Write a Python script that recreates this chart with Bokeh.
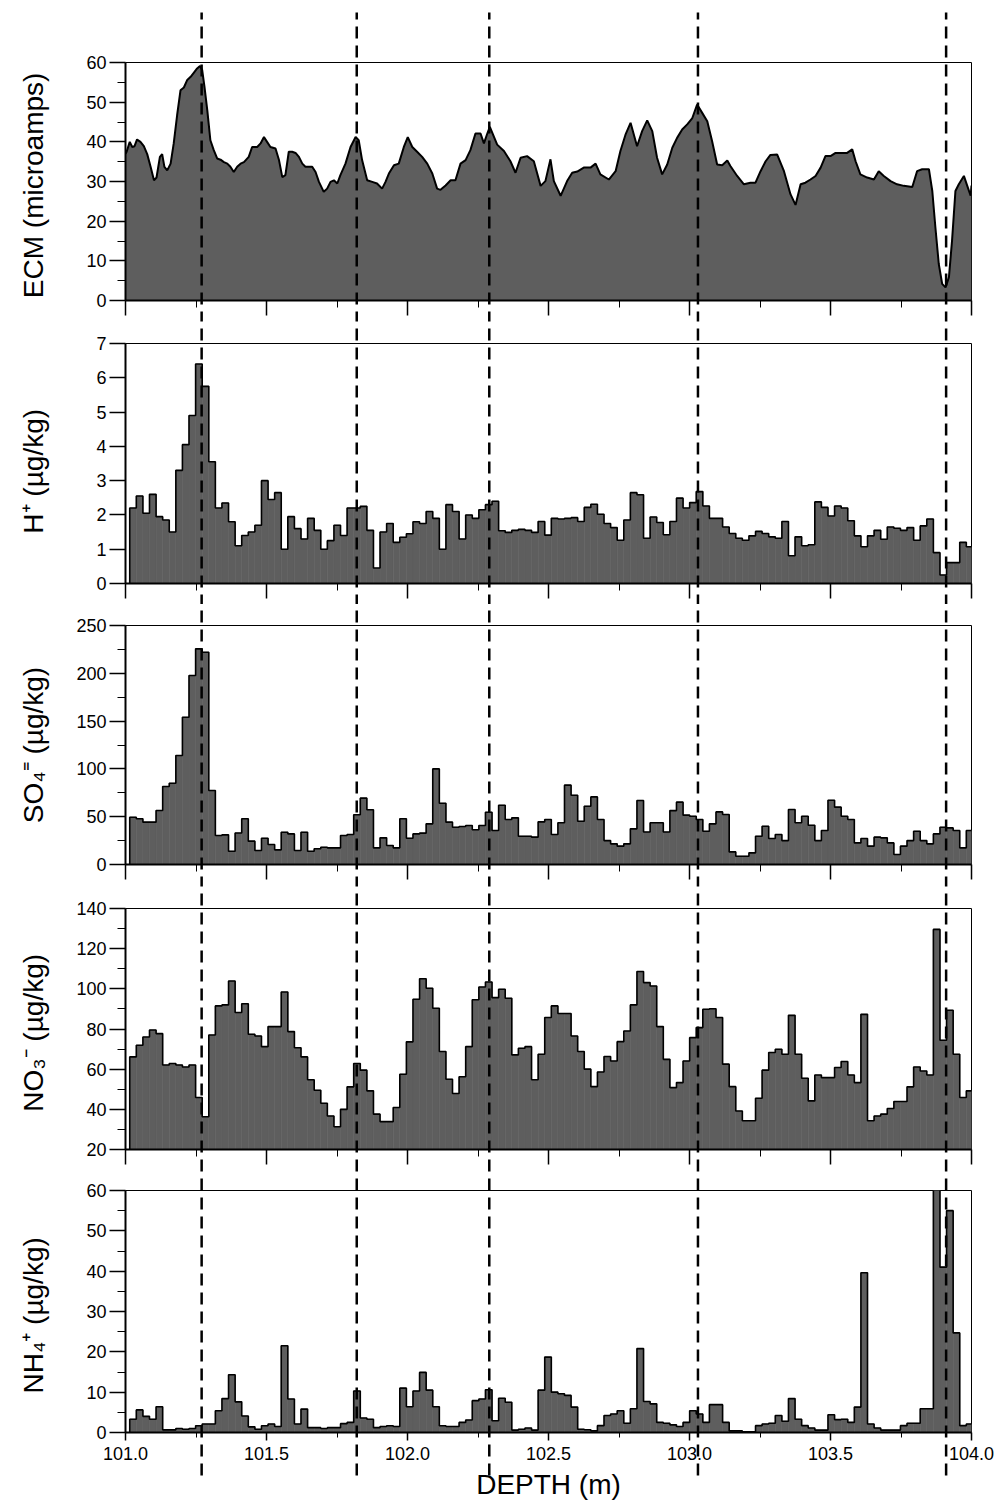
from bokeh.plotting import figure
from bokeh.layouts import column
from bokeh.models import Range1d, FixedTicker, PrintfTickFormatter
from bokeh.embed import file_html
from bokeh.resources import INLINE

FONT = "Liberation Sans"
FILL = "#5e5e5e"

# ---------------- data ----------------
depth_min, depth_max = 101.0, 104.0
x_major = [101.0, 101.5, 102.0, 102.5, 103.0, 103.5, 104.0]
x_minor = [101.25, 101.75, 102.25, 102.75, 103.25, 103.75]
event_depths = [101.27, 101.82, 102.29, 103.03, 103.91]

ecm_depth = [101.000, 101.004, 101.015, 101.024, 101.032, 101.041, 101.053, 101.065, 101.077, 101.089,
             101.101, 101.110, 101.122, 101.130, 101.138, 101.148, 101.160, 101.171, 101.183, 101.195,
             101.207, 101.219, 101.231, 101.242, 101.254, 101.264, 101.272, 101.280, 101.290, 101.301,
             101.313, 101.325, 101.337, 101.349, 101.361, 101.372, 101.384, 101.396, 101.408, 101.420,
             101.437, 101.449, 101.467, 101.479, 101.491, 101.502, 101.514, 101.532, 101.544, 101.556,
             101.567, 101.579, 101.591, 101.603, 101.615, 101.627, 101.638, 101.650, 101.662, 101.674,
             101.686, 101.703, 101.715, 101.727, 101.739, 101.751, 101.762, 101.780, 101.798, 101.816,
             101.827, 101.839, 101.857, 101.875, 101.892, 101.910, 101.922, 101.934, 101.952, 101.969,
             101.987, 102.001, 102.017, 102.034, 102.052, 102.070, 102.088, 102.105, 102.117, 102.135,
             102.153, 102.170, 102.188, 102.206, 102.223, 102.241, 102.259, 102.271, 102.283, 102.292,
             102.318, 102.342, 102.365, 102.383, 102.401, 102.424, 102.448, 102.472, 102.489, 102.507,
             102.519, 102.543, 102.566, 102.584, 102.602, 102.625, 102.649, 102.667, 102.684, 102.714,
             102.738, 102.755, 102.773, 102.791, 102.814, 102.832, 102.850, 102.868, 102.885, 102.903,
             102.921, 102.939, 102.956, 102.974, 102.992, 103.010, 103.027, 103.045, 103.063, 103.080,
             103.098, 103.116, 103.134, 103.145, 103.169, 103.193, 103.216, 103.234, 103.252, 103.270,
             103.287, 103.311, 103.335, 103.358, 103.376, 103.394, 103.411, 103.429, 103.447, 103.465,
             103.482, 103.500, 103.518, 103.536, 103.559, 103.577, 103.589, 103.606, 103.630, 103.654,
             103.671, 103.689, 103.713, 103.736, 103.760, 103.790, 103.807, 103.825, 103.849, 103.861,
             103.872, 103.884, 103.896, 103.908, 103.920, 103.931, 103.943, 103.955, 103.973, 103.985,
             103.997, 104.000]
ecm_value = [37.0, 37.5, 40.0, 38.7, 38.9, 40.6, 40.0, 38.9, 36.9, 33.7,
             30.3, 31.0, 36.2, 36.9, 33.7, 32.8, 34.5, 39.6, 46.7, 53.0,
             53.7, 55.6, 56.4, 57.4, 58.5, 59.1, 58.1, 53.9, 48.0, 40.4,
             37.9, 35.8, 35.5, 34.9, 34.5, 33.7, 32.4, 33.7, 34.5, 34.9,
             36.2, 38.7, 38.7, 39.6, 41.2, 40.0, 38.7, 38.3, 35.5, 31.1,
             31.6, 37.5, 37.5, 37.2, 36.2, 34.5, 33.7, 33.7, 33.7, 32.4,
             29.9, 27.4, 28.2, 29.9, 30.3, 29.5, 31.6, 34.5, 38.7, 41.2,
             40.4, 35.4, 30.3, 29.9, 29.5, 28.2, 29.9, 32.0, 34.1, 34.5,
             38.7, 41.2, 38.7, 37.5, 36.2, 34.5, 32.0, 28.2, 27.9, 29.0,
             30.3, 30.3, 34.5, 35.4, 37.9, 42.1, 42.1, 39.6, 42.1, 43.8,
             39.3, 37.7, 35.1, 32.2, 36.0, 36.4, 35.1, 28.9, 30.1, 35.6,
             30.1, 26.4, 30.1, 32.2, 32.5, 33.5, 33.5, 34.5, 31.8, 30.5,
             32.6, 37.7, 41.8, 44.8, 38.9, 42.7, 45.4, 42.7, 36.0, 31.8,
             34.3, 38.5, 41.0, 43.1, 44.4, 46.0, 49.4, 47.3, 45.2, 40.2,
             34.3, 34.1, 35.3, 33.9, 31.4, 29.3, 29.7, 29.7, 32.6, 35.1,
             36.7, 36.8, 32.6, 26.8, 24.1, 29.3, 29.7, 30.5, 31.4, 33.5,
             36.4, 36.4, 37.2, 37.2, 37.2, 38.1, 35.1, 31.8, 31.0, 30.5,
             32.6, 31.4, 30.1, 29.3, 28.9, 28.6, 32.6, 33.1, 33.1, 27.6,
             18.4, 9.2, 4.2, 3.3, 5.9, 15.1, 27.6, 29.3, 31.4, 28.9,
             26.4, 29.0]

# sample bins shared by the chemistry series
bin_start, bin_end = 101.015, 104.005

h_values = [2.2, 2.55, 2.05, 2.6, 1.95, 1.85, 1.5, 3.3, 4.05, 4.9,
            6.4, 5.75, 3.55, 2.2, 2.35, 1.8, 1.1, 1.4, 1.5, 1.7,
            3.0, 2.45, 2.65, 1.0, 1.95, 1.6, 1.3, 1.9, 1.55, 1.0,
            1.25, 1.7, 1.4, 2.2, 2.2, 2.25, 1.55, 0.45, 1.5, 1.75,
            1.2, 1.35, 1.45, 1.8, 1.75, 2.1, 1.9, 1.0, 2.3, 2.1,
            1.3, 2.0, 1.9, 2.15, 2.3, 2.4,
            1.54, 1.49, 1.55, 1.58, 1.55, 1.49, 1.81, 1.41, 1.9, 1.88,
            1.9, 1.92, 1.81, 2.22, 2.31, 2.02, 1.75, 1.63, 1.26, 1.85,
            2.65, 2.59, 1.32, 1.94, 1.78, 1.42, 1.81, 2.49, 2.2, 2.36,
            2.68, 2.26, 1.9, 1.9, 1.65, 1.46, 1.32, 1.26, 1.39, 1.52,
            1.46, 1.36, 1.32, 1.81, 0.81, 1.36, 1.1, 1.13, 2.38, 2.22,
            1.97, 2.26, 2.2, 1.83, 1.39, 1.07, 1.39, 1.55, 1.29, 1.65,
            1.61, 1.55, 1.63, 1.26, 1.68, 1.88, 0.9, 0.25, 0.61, 0.61,
            1.2, 1.07]

so4_values = [49.5, 47.8, 44.3, 44.3, 56.5, 81.6, 85, 114, 154, 197.7,
              225.6, 222, 77.4, 30.3, 31, 13.9, 33, 47.8, 24.4, 14.6,
              27.5, 20.9, 15.3, 33.8, 32, 14.6, 33.8, 13.9, 16.4, 18.1,
              17.4, 17.4, 30.3, 31.4, 52, 69.4, 57.2, 17.4, 27.9, 19.9,
              17.4, 47.8, 27.5, 32, 32.8, 42.5, 100, 64, 44.3, 39,
              39.7, 40.8, 36.3, 40.8, 54.7, 35.6,
              62, 47, 48.8, 29.6, 29.6, 28.6, 44.6, 47, 31.4, 43.6,
              83, 72.5, 45.3, 61, 70.7, 47, 25, 21.6, 19.2, 21.6,
              37.3, 67, 34, 43.6, 43.6, 34, 56.4, 65.2, 51.6, 50.5,
              47, 34.8, 42.5, 55, 52.3, 13.2, 8.7, 8.7, 12.2, 29.6,
              40, 27.2, 31.4, 25, 57.5, 43.6, 50.5, 41, 25, 35.5,
              67.2, 60, 50.5, 47, 22.6, 27.2, 19.2, 28.6, 27.9, 22.6,
              10.5, 19.2, 25, 34.8, 25, 21.6, 32, 39, 38.3, 35.5,
              17.4, 35.5]

no3_values = [66.1, 71.9, 76, 79.5, 77.7, 62.1, 62.8, 62.1, 61.1, 62.1,
              45.9, 36.3, 77, 91.5, 92, 103.9, 88.2, 92.6, 77.4, 76.5,
              71.2, 81.2, 81.2, 98.4, 78.7, 70.7, 66.1, 54.7, 49.5, 43,
              36.7, 31.3, 40, 51.2, 62.8, 59.5, 49.2, 37.6, 33.9, 33.9,
              40.9, 57.5, 73.6, 94.8, 105, 100.3, 90.3, 68.8, 55, 47.9,
              56.2, 71.2, 94.6, 100.9, 103.4, 95.6,
              99.8, 95.3, 67.1, 70.4, 71.2, 54.7, 67.4, 85.7, 91.5, 87.7,
              87.7, 76.5, 68.8, 60, 51.3, 58.6, 66.3, 64.1, 73.7, 79,
              92, 108.6, 103.1, 101.4, 81.2, 64.9, 50.8, 53.3, 64.1, 75.7,
              80.7, 89.8, 90.1, 85.7, 62.5, 51.3, 39.2, 34.3, 34.3, 45.5,
              59.5, 68.3, 69.9, 67.4, 86.8, 67.4, 55.5, 44.2, 57.1, 55.8,
              55.8, 60.8, 63.8, 57.1, 53.3, 87.3, 34.3, 36.7, 37.6, 40.4,
              43.9, 43.9, 51.2, 61.1, 59.1, 57.1, 129.6, 74.4, 89.3, 67.4,
              45.9, 49.2]

nh4_values = [3.3, 5.6, 4.0, 3.3, 6.4, 0.66, 0.66, 1.0, 0.8, 1.0,
              1.66, 2.1, 2.1, 5.4, 8.4, 14.3, 7.6, 4.1, 1.4, 0.8,
              1.66, 2.1, 1.5, 21.5, 8.3, 2.1, 5.8, 1.2, 1.2, 1.0,
              1.2, 1.2, 2.2, 2.5, 10.3, 3.6, 3.3, 1.2, 1.5, 1.66,
              1.5, 11, 6.4, 10.3, 14.9, 10.5, 6.4, 1.66, 1.5, 1.5,
              2.5, 3.1, 7.9, 8.3, 10.6, 2.9,
              8.5, 7.5, 0.6, 0.8, 1.1, 0.6, 10.5, 18.7, 10, 9.6,
              9.2, 6.3, 0.8, 0.7, 0.4, 1.7, 4.2, 4.6, 5.4, 2.3,
              5.9, 20.8, 7.7, 7.1, 2.5, 2.3, 1.9, 1.5, 2.5, 5.4,
              4.6, 2.5, 6.9, 6.9, 2.5, 0.4, 0.4, 0.2, 0.2, 1.7,
              2.1, 2.3, 4.2, 2.8, 8.4, 3.3, 1.7, 1.1, 0.6, 0.6,
              4.4, 3.2, 3.3, 2.5, 6.3, 39.6, 2.1, 1.1, 0.6, 0.6,
              0.6, 1.7, 2.3, 2.3, 5.9, 5.9, 61, 41, 55, 24.7,
              1.7, 2.1]

# ---------------- panels ----------------
panels = [
    dict(kind="ecm", label="ECM  (microamps)", yr=(0, 60),
         major=list(range(0, 61, 10)), minor=list(range(5, 60, 10)),
         top=62, frame=238, bottom=21, ext_top=50, standoff=34),
    dict(kind="bins", values=h_values, label="H\u207a   (\u00b5g/kg)", yr=(0, 7),
         major=list(range(0, 8)), minor=[],
         top=22, frame=240, bottom=21, ext_top=23, standoff=44),
    dict(kind="bins", values=so4_values, label="SO\u2084\u207c (\u00b5g/kg)", yr=(0, 250),
         major=list(range(0, 251, 50)), minor=list(range(25, 250, 50)),
         top=21, frame=239, bottom=22, ext_top=22, standoff=24),
    dict(kind="bins", values=no3_values, label="NO\u2083\u207b  (\u00b5g/kg)", yr=(20, 140),
         major=list(range(20, 141, 20)), minor=list(range(30, 140, 20)),
         top=22, frame=241, bottom=20, ext_top=23, standoff=24),
    dict(kind="bins", values=nh4_values, label="NH\u2084\u207a  (\u00b5g/kg)", yr=(0, 60),
         major=list(range(0, 61, 10)), minor=list(range(5, 60, 10)),
         top=21, frame=242, bottom=79, ext_top=22, standoff=34),
]

figs = []
for i, spec in enumerate(panels):
    last = i == len(panels) - 1
    y0, y1 = spec["yr"]
    h = spec["top"] + spec["frame"] + spec["bottom"]
    p = figure(width=996, height=h, output_backend="svg", toolbar_location=None,
               x_range=Range1d(depth_min, depth_max), y_range=Range1d(y0, y1),
               min_border_left=125, min_border_right=25,
               min_border_top=spec["top"], min_border_bottom=spec["bottom"])
    p.background_fill_color = "white"
    p.border_fill_color = "white"
    p.grid.grid_line_color = None
    p.outline_line_color = "black"
    p.outline_line_width = 1

    if spec["kind"] == "ecm":
        p.varea(x=ecm_depth, y1=[y0] * len(ecm_depth), y2=ecm_value, fill_color=FILL)
        p.line(x=ecm_depth, y=ecm_value, line_color="black", line_width=2)
    else:
        vals = spec["values"]
        n = len(vals)
        w = (bin_end - bin_start) / n
        lefts = [bin_start + k * w for k in range(n)]
        rights = [l + w for l in lefts]
        p.quad(left=lefts, right=rights, top=vals, bottom=[y0] * n,
               fill_color=FILL, line_color=FILL, line_width=0.6)
        sx = [lefts[0]] + lefts + [rights[-1]]
        sy = [y0] + vals + [y0]
        p.step(x=sx, y=sy, mode="after", line_color="black", line_width=1.6)

    # dashed event lines, running through the gaps between panels
    per_px = (y1 - y0) / spec["frame"]
    ext_bot = 43 if last else spec["bottom"] + 2
    ytop = y1 + spec["ext_top"] * per_px
    ybot = y0 - ext_bot * per_px
    p.segment(x0=event_depths, x1=event_depths,
              y0=[ybot] * len(event_depths), y1=[ytop] * len(event_depths),
              line_color="black", line_width=2.5, line_dash="12 7", level="overlay")

    ya = p.yaxis[0]
    ya.ticker = FixedTicker(ticks=spec["major"], minor_ticks=spec["minor"])
    ya.axis_line_width = 2
    ya.major_tick_out = 16
    ya.major_tick_in = 0
    ya.minor_tick_out = 8
    ya.minor_tick_in = 0
    ya.major_tick_line_width = 1.5
    ya.major_label_text_font = FONT
    ya.major_label_text_font_size = "18px"
    ya.major_label_text_color = "black"
    ya.major_label_standoff = 3
    ya.axis_label = spec["label"]
    ya.axis_label_text_font = FONT
    ya.axis_label_text_font_size = "28px"
    ya.axis_label_text_font_style = "normal"
    ya.axis_label_text_color = "black"
    ya.axis_label_standoff = spec["standoff"]

    xa = p.xaxis[0]
    xa.ticker = FixedTicker(ticks=x_major, minor_ticks=x_minor)
    xa.axis_line_width = 2
    xa.major_tick_in = 0
    xa.minor_tick_in = 0
    xa.major_tick_line_width = 1.5
    if last:
        xa.major_tick_out = 8
        xa.minor_tick_out = 5
        xa.formatter = PrintfTickFormatter(format="%.1f")
        xa.major_label_text_font = FONT
        xa.major_label_text_font_size = "18px"
        xa.major_label_text_color = "black"
        xa.major_label_standoff = 6
        xa.axis_label = "DEPTH (m)"
        xa.axis_label_text_font = FONT
        xa.axis_label_text_font_size = "28px"
        xa.axis_label_text_font_style = "normal"
        xa.axis_label_text_color = "black"
        xa.axis_label_standoff = 6
    else:
        xa.major_tick_out = 15
        xa.minor_tick_out = 7
        xa.major_label_overrides = {t: "" for t in x_major}
        xa.major_label_standoff = 0
    figs.append(p)

layout = column(*figs, spacing=0)
open("out.html", "w").write(file_html(layout, INLINE))
